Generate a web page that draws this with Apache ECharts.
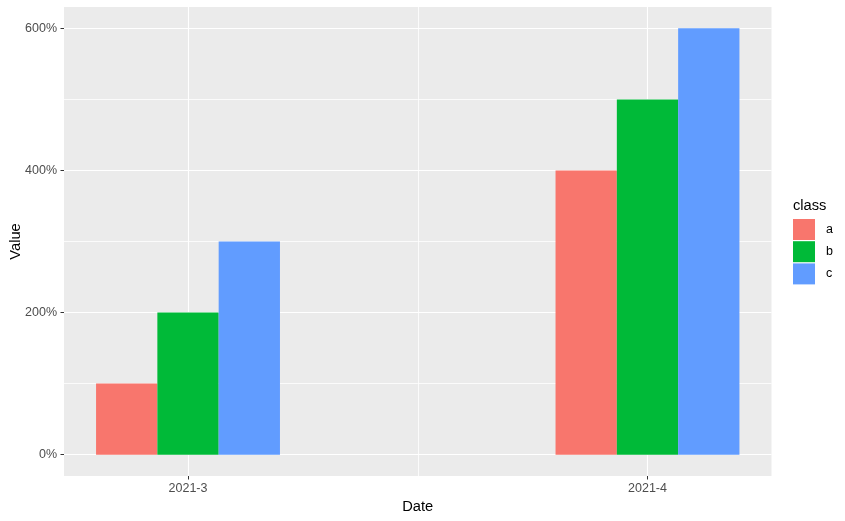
<!DOCTYPE html>
<html>
<head>
<meta charset="utf-8">
<script src="https://cdn.jsdelivr.net/npm/echarts@6/dist/echarts.min.js"></script>
<style>
html,body{margin:0;padding:0;background:#fff;}
#chart{width:845px;height:521px;}
</style>
</head>
<body>
<div id="chart"></div>
<script>
// ---- data ----
const dateLabels = ['2021-3', '2021-4'];
const datePositions = [3, 4];          // month number on the continuous x scale
const classNames = ['a', 'b', 'c'];
const valuesA = [100, 400];            // percent
const valuesB = [200, 500];
const valuesC = [300, 600];
const yTickValues = [0, 200, 400, 600];
const yMinorValues = [100, 300, 500];
const xMinorValues = [3.5];
const colors = ['#F8766D', '#00BA38', '#619CFF'];

const FONT = '"Liberation Sans", Arial, sans-serif';
const seriesValues = [valuesA, valuesB, valuesC];

const chart = echarts.init(document.getElementById('chart'), null, {renderer: 'canvas'});

const series = classNames.map((name, i) => ({
  name: name,
  type: 'bar',
  xAxisIndex: 0,
  yAxisIndex: 0,
  barWidth: 61.3,
  barGap: '0%',
  itemStyle: {color: colors[i]},
  emphasis: {disabled: true},
  data: datePositions.map((x, j) => [x, seriesValues[i][j]])
}));

const gridLine = {show: true, lineStyle: {color: '#FFFFFF', width: 1.1}};
const noLine = {show: false, onZero: false};

chart.setOption({
  animation: false,
  textStyle: {fontFamily: FONT},
  grid: {
    left: 64, top: 7, right: 73.5, bottom: 45,
    show: true, backgroundColor: '#EBEBEB', borderWidth: 0,
    containLabel: false,
    outerBoundsMode: 'none'
  },
  xAxis: [{
    type: 'value',
    min: 2.7301, max: 4.2699,
    position: 'bottom',
    name: 'Date',
    nameLocation: 'middle',
    nameGap: 23,
    nameMoveOverlap: false,
    nameTextStyle: {fontFamily: FONT, fontSize: 14.7, color: '#000'},
    axisLine: noLine,
    axisTick: {show: true, length: 3.5, customValues: datePositions, lineStyle: {color: '#333333', width: 1}},
    axisLabel: {
      customValues: datePositions,
      margin: 6,
      fontFamily: FONT, fontSize: 12.5, color: '#4D4D4D',
      formatter: v => dateLabels[datePositions.indexOf(v)]
    },
    splitLine: gridLine
  }, {
    type: 'value',
    min: 2.7301, max: 4.2699,
    position: 'bottom',
    axisLine: noLine,
    axisTick: {show: false, customValues: xMinorValues},
    axisLabel: {show: false, customValues: xMinorValues},
    splitLine: {show: true, lineStyle: {color: '#FFFFFF', width: 0.8}}
  }],
  yAxis: [{
    type: 'value',
    min: -30, max: 630,
    position: 'left',
    name: 'Value',
    nameLocation: 'middle',
    nameGap: 40.5,
    nameRotate: 90,
    nameMoveOverlap: false,
    nameTextStyle: {fontFamily: FONT, fontSize: 14.7, color: '#000'},
    axisLine: noLine,
    axisTick: {show: true, length: 3.5, customValues: yTickValues, lineStyle: {color: '#333333', width: 1}},
    axisLabel: {
      customValues: yTickValues,
      margin: 7,
      fontFamily: FONT, fontSize: 12.5, color: '#4D4D4D',
      formatter: v => v + '%'
    },
    splitLine: gridLine
  }, {
    type: 'value',
    min: -30, max: 630,
    position: 'left',
    axisLine: noLine,
    axisTick: {show: false, customValues: yMinorValues},
    axisLabel: {show: false, customValues: yMinorValues},
    splitLine: {show: true, lineStyle: {color: '#FFFFFF', width: 0.8}}
  }],
  legend: {
    orient: 'vertical',
    left: 793, top: 219,
    padding: 0,
    itemWidth: 22, itemHeight: 21, itemGap: 1.2,
    icon: 'rect',
    selectedMode: false,
    data: classNames,
    textStyle: {fontFamily: FONT, fontSize: 12.5, color: '#000', padding: [0, 0, 0, 6]}
  },
  graphic: [{
    type: 'text',
    left: 793, top: 198,
    style: {text: 'class', font: '14.7px ' + FONT, fill: '#000'}
  }],
  series: series
});
</script>
</body>
</html>
